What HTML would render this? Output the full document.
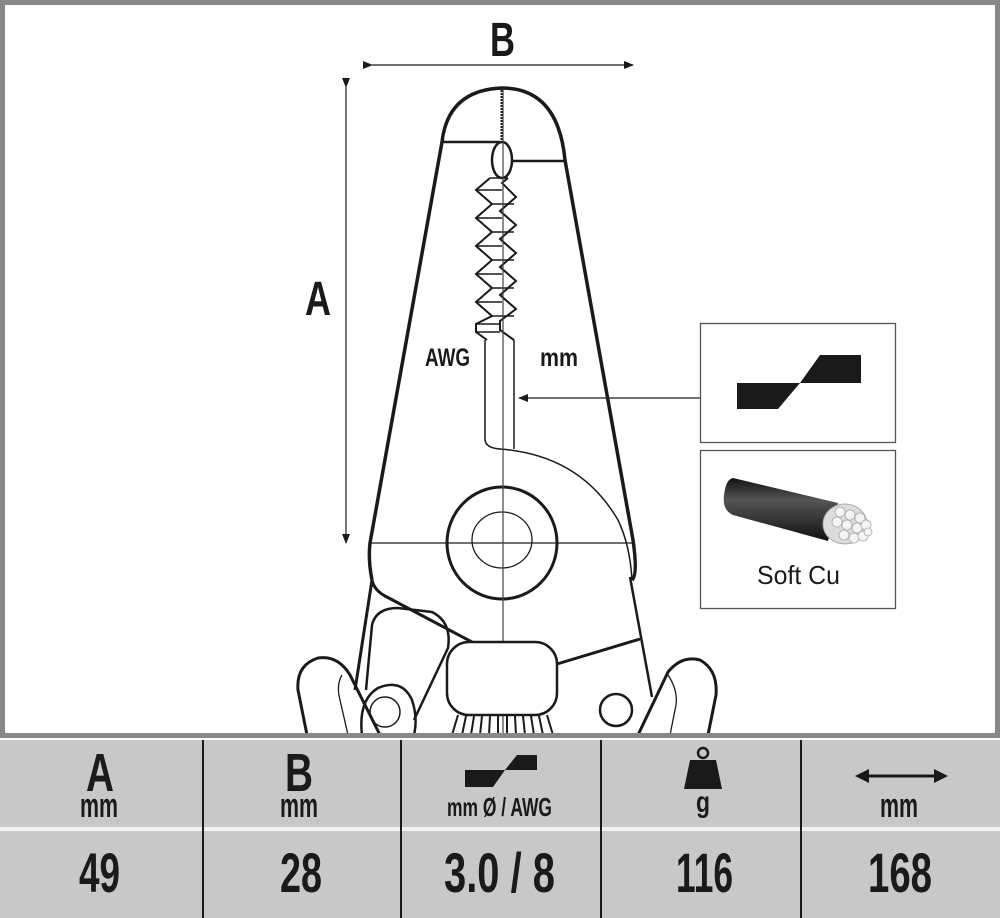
<!DOCTYPE html>
<html><head><meta charset="utf-8"><style>
html,body{margin:0;padding:0;background:#fff}
body{width:1000px;height:918px;position:relative;overflow:hidden;font-family:"Liberation Sans",sans-serif}
.frame{position:absolute;left:0;top:0;width:990px;height:728px;border:5px solid #888;background:#fff}
</style></head><body>
<div class="frame"></div>
<svg style="position:absolute;left:0;top:0" width="1000" height="738" viewBox="0 0 1000 738">
<defs>
<marker id="ah" markerWidth="10" markerHeight="8" refX="9" refY="4" orient="auto" markerUnits="userSpaceOnUse"><path d="M0,0 L10,4 L0,8 z" fill="#1a1a1a"/></marker>
<linearGradient id="cab" x1="0" y1="0" x2="0" y2="1"><stop offset="0" stop-color="#111"/><stop offset="0.35" stop-color="#555"/><stop offset="1" stop-color="#111"/></linearGradient>
<clipPath id="cl"><rect x="5" y="5" width="989" height="728"/></clipPath>
</defs>
<g clip-path="url(#cl)" fill="none" stroke="#1a1a1a">
<line x1="346" y1="87" x2="346" y2="543" stroke-width="1.2" marker-start="url(#ah)" marker-end="url(#ah)"/>
<line x1="372" y1="65" x2="633" y2="65" stroke-width="1.2" marker-start="url(#ah)" marker-end="url(#ah)"/>
<path d="M372,580 Q368,560 370,543 L442,142 Q448,90 502,88 Q558,88 565,160 L633,540 Q638,575 632,580" stroke-width="3.5"/>
<line x1="442" y1="142" x2="500" y2="142" stroke-width="2.5"/>
<line x1="510" y1="161" x2="565" y2="161" stroke-width="2.5"/>
<ellipse cx="502" cy="160" rx="10" ry="18" stroke-width="2.5" fill="#fff"/>
<path d="M502,90 L502,142" stroke-width="3" stroke-dasharray="2 1"/>
<polyline points="490,178 476,190 492,204 476,218 492,232 476,246 492,260 476,274 492,288 476,302 492,316 476,324 476,332 487,340" stroke-width="2"/>
<polyline points="508,178 502,183 516,197 500,211 516,225 500,239 516,253 500,267 516,281 500,295 516,309 500,321 500,330 514,340" stroke-width="2"/>
<g stroke-width="1.5">
<line x1="490" y1="178" x2="508" y2="178"/>
<line x1="476" y1="190" x2="502" y2="190"/><line x1="492" y1="204" x2="514" y2="204"/>
<line x1="476" y1="218" x2="502" y2="218"/><line x1="492" y1="232" x2="514" y2="232"/>
<line x1="476" y1="246" x2="502" y2="246"/><line x1="492" y1="260" x2="514" y2="260"/>
<line x1="476" y1="274" x2="502" y2="274"/><line x1="492" y1="288" x2="514" y2="288"/>
<line x1="476" y1="302" x2="502" y2="302"/><line x1="492" y1="316" x2="514" y2="316"/>
<line x1="476" y1="324" x2="500" y2="324"/><line x1="476" y1="332" x2="500" y2="332"/>
</g>
<path d="M485,340 L485,440 Q486,448 500,449 Q580,455 618,520 Q630,545 632,580" stroke-width="1.5"/>
<line x1="514" y1="340" x2="514" y2="449" stroke-width="1.5"/>
<ellipse cx="502" cy="543" rx="55" ry="56" stroke-width="3"/>
<ellipse cx="502" cy="540" rx="30" ry="28" stroke-width="1.3"/>
<line x1="370" y1="543" x2="633" y2="543" stroke-width="1.2"/>
<line x1="503" y1="90" x2="503" y2="735" stroke-width="1.2" stroke="#444"/>
<path d="M372,580 Q374,590 385,596 L472,642" stroke-width="3"/>
<line x1="372" y1="580" x2="355" y2="690" stroke-width="3"/>
<line x1="630" y1="577" x2="652" y2="697" stroke-width="2.5"/>
<line x1="557" y1="664" x2="640" y2="639" stroke-width="3"/>
<path d="M366,690 L372,625 Q376,608 398,608 L432,612 Q452,622 448,648 L414,720" stroke-width="2.5"/>
<rect x="447" y="642" width="110" height="73" rx="22" stroke-width="2.5" fill="#fff"/>
<g stroke-width="2">
<line x1="458" y1="715" x2="452" y2="735"/><line x1="466" y1="716" x2="462" y2="735"/><line x1="474" y1="716" x2="471" y2="735"/><line x1="482" y1="716" x2="480" y2="735"/><line x1="490" y1="716" x2="489" y2="735"/><line x1="498" y1="716" x2="498" y2="735"/><line x1="507" y1="716" x2="507" y2="735"/><line x1="515" y1="716" x2="516" y2="735"/><line x1="523" y1="716" x2="525" y2="735"/><line x1="531" y1="716" x2="534" y2="735"/><line x1="539" y1="716" x2="543" y2="735"/><line x1="547" y1="715" x2="553" y2="735"/>
</g>
<path d="M362,735 Q358,700 378,688 Q402,678 412,700 Q418,718 414,735" stroke-width="2.5"/>
<circle cx="385" cy="712" r="15" stroke-width="1.5"/>
<circle cx="616" cy="710" r="16" stroke-width="2.5"/>
<path d="M307,735 L298,690 Q296,665 318,658 Q338,655 350,675 L380,735" stroke-width="3"/>
<path d="M342,675 Q336,685 340,700 L348,735" stroke-width="1.3"/>
<path d="M638,735 L668,672 Q682,655 700,660 Q718,670 716,695 L708,735" stroke-width="3"/>
<path d="M668,675 Q678,690 676,705 L670,735" stroke-width="1.3"/>
<line x1="700" y1="398" x2="519" y2="398" stroke-width="1.2" marker-end="url(#ah)"/>
</g>
<rect x="700.5" y="323.5" width="195" height="119" fill="#fff" stroke="#555" stroke-width="1.3"/>
<polygon points="737,383 800,383 778,409 737,409" fill="#1a1a1a"/>
<polygon points="800,383 820,355 861,355 861,383" fill="#1a1a1a"/>
<rect x="700.5" y="450.5" width="195" height="158" fill="#fff" stroke="#555" stroke-width="1.3"/>
<path d="M733,478 L838,503 L828,541 L733,515 Q722,510 724,495 Q726,479 733,478 z" fill="url(#cab)"/>
<ellipse cx="845" cy="524" rx="22" ry="20" fill="#ddd" stroke="#aaa"/>
<g fill="#f4f4f4" stroke="#aaa" stroke-width="0.8">
<circle cx="840" cy="512" r="5"/><circle cx="850" cy="515" r="5"/><circle cx="860" cy="518" r="5"/>
<circle cx="837" cy="522" r="5"/><circle cx="847" cy="525" r="5"/><circle cx="857" cy="528" r="5"/><circle cx="866" cy="525" r="5"/>
<circle cx="844" cy="535" r="5"/><circle cx="854" cy="538" r="5"/><circle cx="863" cy="536" r="5"/><circle cx="868" cy="532" r="4"/>
</g>
<text x="757" y="584" textLength="83" lengthAdjust="spacingAndGlyphs" font-size="26" fill="#1a1a1a">Soft Cu</text>
<g font-weight="bold" fill="#1a1a1a">
<text x="305" y="315" textLength="26" lengthAdjust="spacingAndGlyphs" font-size="48">A</text>
<text x="490" y="56" textLength="25" lengthAdjust="spacingAndGlyphs" font-size="48">B</text>
<text x="425" y="366" textLength="45" lengthAdjust="spacingAndGlyphs" font-size="25">AWG</text>
<text x="540" y="366" textLength="38" lengthAdjust="spacingAndGlyphs" font-size="25">mm</text>
</g>
</svg>
<svg style="position:absolute;left:0;top:740px" width="1000" height="178" viewBox="0 740 1000 178">
<rect x="0" y="740" width="1000" height="178" fill="#c8c8c8"/>
<rect x="0" y="827" width="1000" height="4" fill="#f2f2f2"/>
<g fill="#1a1a1a">
<rect x="202" y="740" width="2" height="178"/><rect x="400" y="740" width="2" height="178"/><rect x="600" y="740" width="2" height="178"/><rect x="800" y="740" width="2" height="178"/>
<polygon points="465,770 505,770 493,787 465,787"/><polygon points="505,770 517,755 537,755 537,770"/>
<circle cx="703" cy="753" r="5" fill="none" stroke="#1a1a1a" stroke-width="2.5"/><polygon points="690,760 716,760 722,789 684,789"/>
<line x1="866" y1="776" x2="937" y2="776" stroke="#1a1a1a" stroke-width="3"/><polygon points="855,776 869,769 869,783"/><polygon points="948,776 934,769 934,783"/>
</g>
<g font-weight="bold" fill="#1a1a1a">
<text x="86" y="791" textLength="28" lengthAdjust="spacingAndGlyphs" font-size="54">A</text>
<text x="285" y="791" textLength="28" lengthAdjust="spacingAndGlyphs" font-size="54">B</text>
<text x="80" y="817" textLength="38" lengthAdjust="spacingAndGlyphs" font-size="34">mm</text>
<text x="280" y="817" textLength="38" lengthAdjust="spacingAndGlyphs" font-size="34">mm</text>
<text x="447" y="816" textLength="105" lengthAdjust="spacingAndGlyphs" font-size="26">mm Ø / AWG</text>
<text x="696" y="812" textLength="14" lengthAdjust="spacingAndGlyphs" font-size="30">g</text>
<text x="880" y="817" textLength="38" lengthAdjust="spacingAndGlyphs" font-size="34">mm</text>
<text x="79" y="892" textLength="41" lengthAdjust="spacingAndGlyphs" font-size="56">49</text>
<text x="280" y="892" textLength="42" lengthAdjust="spacingAndGlyphs" font-size="56">28</text>
<text x="444" y="892" textLength="111" lengthAdjust="spacingAndGlyphs" font-size="56">3.0 / 8</text>
<text x="676" y="892" textLength="57" lengthAdjust="spacingAndGlyphs" font-size="56">116</text>
<text x="868" y="892" textLength="64" lengthAdjust="spacingAndGlyphs" font-size="56">168</text>
</g>
</svg>
</body></html>
